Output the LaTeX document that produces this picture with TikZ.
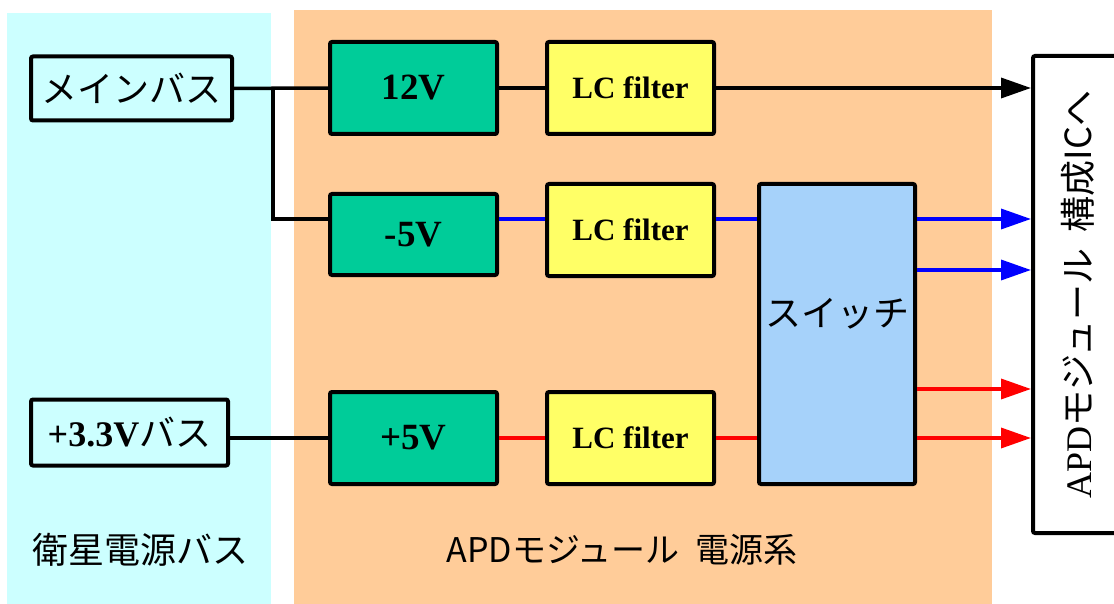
\documentclass[tikz,border=0pt]{standalone}
\usepackage{fontspec}
\setmainfont{Liberation Serif}
\newfontfamily\jp{Noto Sans CJK JP}
\usetikzlibrary{arrows.meta,positioning}
\definecolor{busbg}{RGB}{204,255,255}
\definecolor{apdbg}{RGB}{255,204,153}
\definecolor{convfill}{RGB}{0,204,153}
\definecolor{filtfill}{RGB}{255,255,102}
\definecolor{swfill}{RGB}{166,210,250}
\tikzset{
  box/.style={draw, line width=4pt, rounded corners=2pt, inner sep=0pt},
  conv/.style={box, fill=convfill, minimum width=167pt, minimum height=92pt, font=\fontsize{37}{40}\selectfont\bfseries},
  filt/.style={box, fill=filtfill, minimum width=167pt, minimum height=92pt, font=\fontsize{31}{34}\selectfont\bfseries},
  busbox/.style={box, fill=busbg, font=\fontsize{36}{40}\selectfont},
  wire/.style={line width=3.5pt},
  lbl/.style={font=\fontsize{36}{40}\selectfont\jp},
}
\begin{document}
\begin{tikzpicture}[x=1pt, y=-1pt, >={Triangle[length=30pt,width=20pt]}]
\useasboundingbox (0,0) rectangle (1114,604);
% background areas
\fill[busbg] (7,13) rectangle (271,604);
\fill[apdbg] (294,10) rectangle (992,604);
% satellite bus side
\node[busbox, minimum width=201pt, minimum height=64pt] (main) at (131.5,88.5) {\jp メインバス};
\node[busbox, minimum width=197pt, minimum height=66pt] (bus33) at (129.5,432.5) {{\bfseries +3.3V}{\jp バス}};
\node[lbl] (buslabel) at (140,550) {衛星電源バス};
% converters and filters
\node[conv] (v12) at (413.5,88) {12V};
\node[filt, right=46pt of v12] (lc1) {LC filter};
\node[conv, minimum height=81pt] (vm5) at (413.5,234.5) {-5V};
\node[filt] (lc2) at (630.5,230) {LC filter};
\node[conv] (v5) at (413.5,438) {+5V};
\node[filt, right=46pt of v5] (lc3) {LC filter};
\node[box, fill=swfill, minimum width=156pt, minimum height=300pt, text depth=44pt, font=\fontsize{36}{40}\selectfont\jp] (sw) at (837,334) {スイッチ};
\node[font=\fontsize{34}{38}\selectfont\jp] (apdlabel) at (622,550) {APDモジュール\hspace{0.45em}電源系};
% receiving side
\node[box, fill=white, rotate=90, minimum width=477pt, minimum height=90pt, font=\fontsize{36}{40}\selectfont] (apd) at (1078,294.5) {APD{\jp モジュール\hspace{0.45em}構成ICへ}};
\coordinate (jn) at (273,89);
\coordinate (row2) at (0,219);
\draw[wire] (main) -- (v12);
\draw[wire] (jn) |- (vm5.west |- row2);
\draw[wire] (v12) -- (lc1);
\draw[wire, ->] (lc1) -- (lc1 -| apd.north);
\draw[wire, blue] (vm5.east |- row2) -- (lc2.west |- row2);
\draw[wire, blue] (lc2.east |- row2) -- (sw.west |- row2);
\draw[wire] (bus33.east |- v5) -- (v5);
\draw[wire, red] (v5) -- (lc3);
\draw[wire, red] (lc3) -- (lc3 -| sw.west);
\foreach \dy/\col in {115/blue, 64/blue, -55/red, -104/red}
  \draw[wire, ->, \col] ([yshift=\dy pt]sw.east) -- ([yshift=\dy pt]sw.east -| apd.north);
\end{tikzpicture}
\end{document}
